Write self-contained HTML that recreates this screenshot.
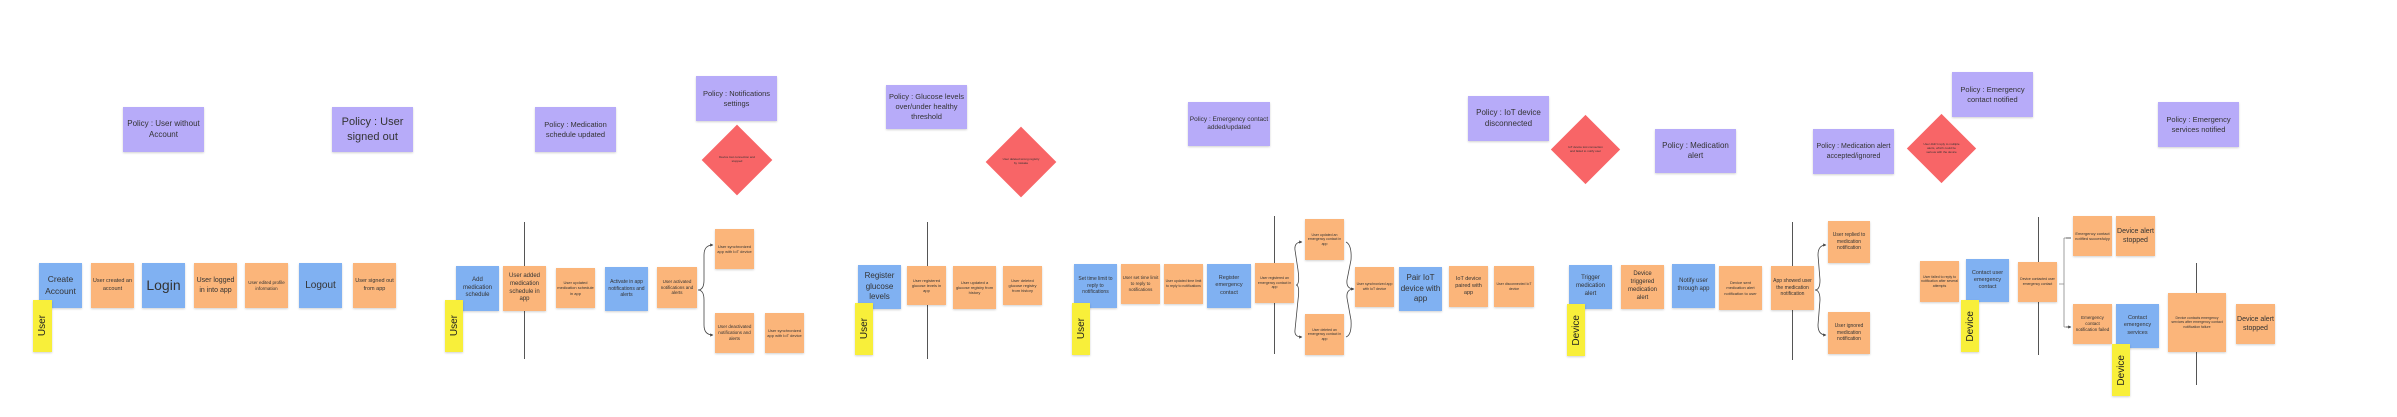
<!DOCTYPE html>
<html><head><meta charset="utf-8"><style>
body{margin:0;width:2397px;height:417px;background:#fff;position:relative;overflow:hidden;font-family:"Liberation Sans",sans-serif}
.n{position:absolute;display:flex;align-items:center;justify-content:center;text-align:center;box-sizing:border-box;color:#333;line-height:1.3;box-shadow:0 1px 2px rgba(0,0,0,.18);padding:1px}
.b{background:#80b1f2}.o{background:#fbb57a}.p{background:#b7abf9}.y{background:#f8ef3a}
.y span{writing-mode:vertical-rl;transform:rotate(180deg);font-size:10px;color:#222}
.d{position:absolute;background:#f86567;transform:rotate(45deg);}
.dt{position:absolute;display:flex;align-items:center;justify-content:center;text-align:center;font-size:3px;color:#333;line-height:1.3}
.l{position:absolute;width:1px;background:#555}
</style></head><body>
<!-- section 1 -->
<div class="n p" style="left:123px;top:107px;width:81px;height:45px;font-size:8px">Policy : User without Account</div>
<div class="n p" style="left:332px;top:107px;width:81px;height:45px;font-size:11px">Policy : User signed out</div>
<div class="n b" style="left:39px;top:263px;width:43px;height:45px;font-size:8.5px">Create Account</div>
<div class="n o" style="left:91px;top:263px;width:43px;height:45px;font-size:5.5px">User created an account</div>
<div class="n b" style="left:142px;top:263px;width:43px;height:45px;font-size:14px">Login</div>
<div class="n o" style="left:194px;top:263px;width:43px;height:45px;font-size:7px">User logged in into app</div>
<div class="n o" style="left:245px;top:263px;width:43px;height:45px;font-size:4.5px">User edited profile information</div>
<div class="n b" style="left:299px;top:263px;width:43px;height:45px;font-size:10px">Logout</div>
<div class="n o" style="left:353px;top:263px;width:43px;height:45px;font-size:5.5px">User signed out from app</div>
<div class="n y" style="left:33px;top:300px;width:19px;height:52px"><span>User</span></div>
<!-- section 2 -->
<div class="n p" style="left:535px;top:107px;width:81px;height:45px;font-size:7.5px">Policy : Medication schedule updated</div>
<div class="n p" style="left:696px;top:76px;width:81px;height:45px;font-size:7.5px">Policy : Notifications settings</div>
<div class="d" style="left:712px;top:135px;width:50px;height:50px"></div>
<div class="dt" style="left:717px;top:150px;width:40px;height:20px">Device lost connection and stopped</div>
<div class="l" style="left:524px;top:222px;height:137px"></div>
<div class="n b" style="left:456px;top:266px;width:43px;height:45px;font-size:6px">Add medication schedule</div>
<div class="n o" style="left:503px;top:266px;width:43px;height:45px;font-size:6px">User added medication schedule in app</div>
<div class="n o" style="left:556px;top:268px;width:39px;height:40px;font-size:4px">User updated medication schedule in app</div>
<div class="n b" style="left:605px;top:267px;width:43px;height:44px;font-size:5px">Activate in app notifications and alerts</div>
<div class="n o" style="left:657px;top:267px;width:40px;height:41px;font-size:4.5px">User activated notifications and alerts</div>
<div class="n o" style="left:715px;top:229px;width:39px;height:40px;font-size:4px">User synchronized app with IoT device</div>
<div class="n o" style="left:715px;top:313px;width:39px;height:40px;font-size:4.5px">User deactivated notifications and alerts</div>
<div class="n o" style="left:765px;top:313px;width:39px;height:40px;font-size:4px">User synchronized app with IoT device</div>
<div class="n y" style="left:445px;top:300px;width:18px;height:52px"><span>User</span></div>
<!-- section 3 -->
<div class="n p" style="left:886px;top:85px;width:81px;height:44px;font-size:7.5px">Policy : Glucose levels over/under healthy threshold</div>
<div class="d" style="left:996px;top:137px;width:50px;height:50px"></div>
<div class="dt" style="left:1001px;top:152px;width:40px;height:20px">User deleted wrong registry by mistake</div>
<div class="l" style="left:927px;top:222px;height:137px"></div>
<div class="n b" style="left:858px;top:265px;width:43px;height:44px;font-size:8px">Register glucose levels</div>
<div class="n o" style="left:907px;top:266px;width:39px;height:39px;font-size:4px">User registered glucose levels in app</div>
<div class="n o" style="left:953px;top:266px;width:43px;height:43px;font-size:4px">User updated a glucose registry from history</div>
<div class="n o" style="left:1003px;top:266px;width:39px;height:39px;font-size:4px">User deleted glucose registry from history</div>
<div class="n y" style="left:855px;top:303px;width:18px;height:52px"><span>User</span></div>
<!-- section 4 -->
<div class="n p" style="left:1188px;top:102px;width:82px;height:44px;font-size:6.5px">Policy : Emergency contact added/updated</div>
<div class="n b" style="left:1074px;top:264px;width:43px;height:44px;font-size:5px">Set time limit to reply to notifications</div>
<div class="n o" style="left:1121px;top:264px;width:39px;height:40px;font-size:4.5px">User set time limit to reply to notifications</div>
<div class="n o" style="left:1164px;top:264px;width:39px;height:40px;font-size:3.5px">User updated time limit to reply to notifications</div>
<div class="n b" style="left:1207px;top:264px;width:44px;height:44px;font-size:5.5px">Register emergency contact</div>
<div class="n y" style="left:1072px;top:303px;width:18px;height:52px"><span>User</span></div>
<div class="l" style="left:1274px;top:216px;height:138px"></div>
<div class="n o" style="left:1255px;top:263px;width:39px;height:40px;font-size:3.5px">User registered an emergency contact in app</div>
<div class="n o" style="left:1305px;top:219px;width:39px;height:41px;font-size:3.5px">User updated an emergency contact in app</div>
<div class="n o" style="left:1305px;top:314px;width:39px;height:41px;font-size:3.5px">User deleted an emergency contact in app</div>
<div class="n o" style="left:1355px;top:267px;width:39px;height:40px;font-size:3.5px">User synchronized app with IoT device</div>
<div class="n b" style="left:1399px;top:267px;width:43px;height:44px;font-size:8px">Pair IoT device with app</div>
<div class="n o" style="left:1449px;top:266px;width:39px;height:41px;font-size:5.5px">IoT device paired with app</div>
<div class="n o" style="left:1494px;top:266px;width:40px;height:41px;font-size:3.5px">User disconnected IoT device</div>
<!-- section 5 -->
<div class="n p" style="left:1468px;top:96px;width:81px;height:45px;font-size:8px">Policy : IoT device disconnected</div>
<div class="d" style="left:1561px;top:125px;width:49px;height:49px"></div>
<div class="dt" style="left:1566px;top:140px;width:39px;height:20px">IoT device lost connection and failed to notify user</div>
<div class="n p" style="left:1655px;top:129px;width:81px;height:44px;font-size:8px">Policy : Medication alert</div>
<div class="n b" style="left:1569px;top:265px;width:43px;height:44px;font-size:6px">Trigger medication alert</div>
<div class="n o" style="left:1621px;top:265px;width:43px;height:44px;font-size:6px">Device triggered medication alert</div>
<div class="n y" style="left:1567px;top:304px;width:18px;height:52px"><span>Device</span></div>
<div class="n b" style="left:1672px;top:264px;width:43px;height:44px;font-size:6px">Notify user through app</div>
<div class="n o" style="left:1719px;top:266px;width:43px;height:44px;font-size:4px">Device sent medication alert notification to user</div>
<div class="l" style="left:1792px;top:222px;height:138px"></div>
<div class="n o" style="left:1771px;top:266px;width:43px;height:44px;font-size:5px">App showed user the medication notification</div>
<div class="n o" style="left:1828px;top:221px;width:42px;height:42px;font-size:5px">User replied to medication notification</div>
<div class="n o" style="left:1828px;top:312px;width:42px;height:42px;font-size:5px">User ignored medication notification</div>
<div class="n p" style="left:1813px;top:129px;width:81px;height:45px;font-size:7px">Policy : Medication alert accepted/ignored</div>
<div class="d" style="left:1917px;top:124px;width:49px;height:49px"></div>
<div class="dt" style="left:1922px;top:139px;width:39px;height:20px">User didn't reply to multiple alerts, which could be serious with the device</div>
<!-- section 6 -->
<div class="n p" style="left:1952px;top:72px;width:81px;height:45px;font-size:7.5px">Policy : Emergency contact notified</div>
<div class="n o" style="left:1920px;top:261px;width:39px;height:41px;font-size:3.5px">User failed to reply to notification after several attempts</div>
<div class="n b" style="left:1966px;top:259px;width:43px;height:43px;font-size:5.5px">Contact user emergency contact</div>
<div class="n y" style="left:1961px;top:300px;width:18px;height:52px"><span>Device</span></div>
<div class="l" style="left:2038px;top:217px;height:138px"></div>
<div class="n o" style="left:2018px;top:262px;width:39px;height:40px;font-size:3.5px">Device contacted user emergency contact</div>
<div class="n o" style="left:2073px;top:216px;width:39px;height:40px;font-size:4px">Emergency contact notified succesfulyy</div>
<div class="n o" style="left:2116px;top:216px;width:39px;height:40px;font-size:7px">Device alert stopped</div>
<div class="n o" style="left:2073px;top:304px;width:39px;height:40px;font-size:4.5px">Emergency contact notification failed</div>
<div class="n b" style="left:2116px;top:304px;width:43px;height:44px;font-size:5.5px">Contact emergency services</div>
<div class="n y" style="left:2112px;top:344px;width:18px;height:52px"><span>Device</span></div>
<div class="l" style="left:2196px;top:263px;height:122px"></div>
<div class="n o" style="left:2168px;top:293px;width:58px;height:59px;font-size:3.5px">Device contacts emergency services after emergency contact notification failure</div>
<div class="n o" style="left:2236px;top:304px;width:39px;height:40px;font-size:7px">Device alert stopped</div>
<div class="n p" style="left:2158px;top:102px;width:81px;height:45px;font-size:7.5px">Policy : Emergency services notified</div>
<!-- connectors -->
<svg width="2397" height="417" style="position:absolute;left:0;top:0" fill="none" stroke="#444" stroke-width="0.8">
<defs><marker id="a" markerWidth="4" markerHeight="4" refX="3.5" refY="2" orient="auto"><path d="M0,0L4,2L0,4z" fill="#444" stroke="none"/></marker></defs>
<path d="M698,290 Q704,290 704,280 L704,255 Q704,245 713,245" marker-end="url(#a)"/>
<path d="M698,290 Q704,290 704,300 L704,325 Q704,335 713,335" marker-end="url(#a)"/>
<path d="M1296,285 Q1300,285 1298,270 L1295,250 Q1294,242 1302,242" marker-end="url(#a)"/>
<path d="M1296,285 Q1300,285 1298,300 L1295,330 Q1294,337 1302,337" marker-end="url(#a)"/>
<path d="M1346,242 Q1352,245 1351,260 L1347,280 Q1346,289 1354,289" marker-end="url(#a)"/>
<path d="M1346,337 Q1352,335 1351,320 L1347,298 Q1346,289 1354,289"/>
<path d="M1815,290 Q1820,290 1820,280 L1818,255 Q1818,245 1826,245" marker-end="url(#a)"/>
<path d="M1815,290 Q1820,290 1820,300 L1818,325 Q1818,335 1826,335" marker-end="url(#a)"/>
<path d="M2059,284 L2064,284 M2064,238 L2064,327 M2064,238 L2071,238 M2064,327 L2071,327" stroke="#888"/>
<path d="M2066,238 L2071,238 M2066,327 L2071,327" marker-end="url(#a)"/>
</svg>
</body></html>
